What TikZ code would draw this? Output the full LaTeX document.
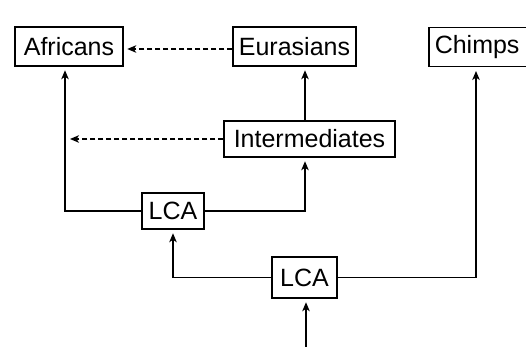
\documentclass[tikz,border=0pt]{standalone}
\usepackage{fontspec}
\setmainfont{Liberation Sans}
\usetikzlibrary{arrows.meta}
\begin{document}
\begin{tikzpicture}[x=1pt,y=-1pt,
  box/.style={draw, line width=1.5pt, inner sep=0pt, font=\fontsize{25}{30}\selectfont},
  arr/.style={line width=1.5pt, -{Stealth[length=9pt,width=7.5pt,inset=2.5pt]}, shorten >=3.5pt},
  dsh/.style={arr, dash pattern=on 5pt off 3pt}]
\useasboundingbox (0,0) rectangle (526,347);
\node[box, minimum width=108pt, minimum height=39pt] (afr) at (69,46.5) {Africans};
\node[box, minimum width=123pt, minimum height=39pt] (eur) at (294.5,46.5) {Eurasians};
\node[box, anchor=north west, text width=100pt, inner xsep=6pt, align=left, minimum height=39pt] (chimps) at (428,27) {Chimps};
\node[box, minimum width=171pt, minimum height=36pt] (inter) at (309.5,139) {Intermediates};
\node[box, minimum width=62pt, minimum height=36pt] (lca1) at (173,211) {LCA};
\node[box, minimum width=65pt, minimum height=41pt] (lca2) at (304.5,277.5) {LCA};
\coordinate (xa) at (65,0);
\coordinate (xe) at (305,0);
\coordinate (xc) at (476,0);
\coordinate (yd) at (0,49);
\coordinate (aline) at (65,139);
\coordinate (root) at (306,347);
\draw[dsh] (eur.west |- yd) -- (afr.east |- yd);
\draw[dsh, shorten >=5pt] (inter.west) -- (aline);
\draw[arr] (inter.north -| xe) -- (eur.south -| xe);
\draw[arr] (lca1.west) -| (afr.south -| xa);
\draw[arr] (lca1.east) -| (inter.south -| xe);
\draw[arr] (lca2.west) -| (lca1.south);
\draw[arr] (lca2.east) -| (chimps.south -| xc);
\draw[arr] (root) -- (lca2.south -| root);
\end{tikzpicture}
\end{document}
